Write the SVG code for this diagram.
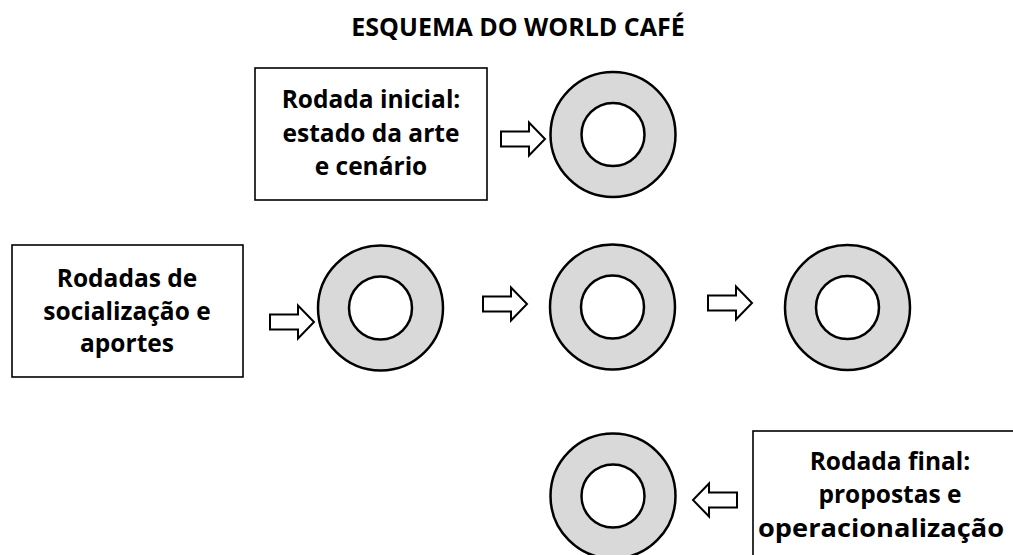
<svg xmlns="http://www.w3.org/2000/svg" xmlns:xlink="http://www.w3.org/1999/xlink" width="1013" height="555" viewBox="0 0 1013 555">
<style>
text{font-family:"Open Sans",Lato,"Liberation Sans",sans-serif;font-weight:bold;fill:#000;text-anchor:middle}
.lbl{font-size:24.5px}
.ttl{font-size:25px}
.box{fill:#fff;stroke:#000;stroke-width:1.6}
.outer{fill:#d9d9d9;stroke:#000;stroke-width:2.5}
.inner{fill:#fff;stroke:#000;stroke-width:2.5}
.arr{fill:#fff;stroke:#000;stroke-width:2;stroke-linejoin:miter}
</style>
<defs>
<path id="arrow" d="M0,-7.5 H28 V-16.5 L44,0 L28,16.5 V7.5 H0 Z"/>
<g id="table"><circle class="outer" r="62.5"/><circle class="inner" r="31.5"/></g>
</defs>
<rect width="1013" height="555" fill="#fff"/>
<text class="ttl" x="518" y="36">ESQUEMA DO WORLD CAFÉ</text>

<g id="box-inicial">
<rect class="box" x="255" y="68" width="232" height="132"/>
<text class="lbl" x="371" y="108">Rodada inicial:</text>
<text class="lbl" x="371" y="142">estado da arte</text>
<text class="lbl" x="371" y="175">e cenário</text>
</g>
<g id="box-socializacao">
<rect class="box" x="12" y="245" width="231" height="132"/>
<text class="lbl" x="127" y="287">Rodadas de</text>
<text class="lbl" x="127" y="320">socialização e</text>
<text class="lbl" x="127" y="352">aportes</text>
</g>
<g id="box-final">
<rect class="box" x="753" y="431" width="280" height="140"/>
<text class="lbl" x="890" y="470">Rodada final:</text>
<text class="lbl" x="890" y="503">propostas e</text>
<text class="lbl" x="881" y="537" textLength="246" lengthAdjust="spacingAndGlyphs">operacionalização</text>
</g>

<g id="mesa-1"><use xlink:href="#table" transform="translate(613,134.5)"/></g>
<g id="mesa-2"><use xlink:href="#table" transform="translate(380.5,308)"/></g>
<g id="mesa-3"><use xlink:href="#table" transform="translate(612.5,307)"/></g>
<g id="mesa-4"><use xlink:href="#table" transform="translate(847.5,307.5)"/></g>
<g id="mesa-5"><use xlink:href="#table" transform="translate(613,496)"/></g>

<g id="connectors">
<use class="arr" xlink:href="#arrow" transform="translate(501,139)"/>
<use class="arr" xlink:href="#arrow" transform="translate(270,322)"/>
<use class="arr" xlink:href="#arrow" transform="translate(483,304)"/>
<use class="arr" xlink:href="#arrow" transform="translate(708,303)"/>
<use class="arr" xlink:href="#arrow" transform="translate(737,500) scale(-1,1)"/>
</g>
</svg>
